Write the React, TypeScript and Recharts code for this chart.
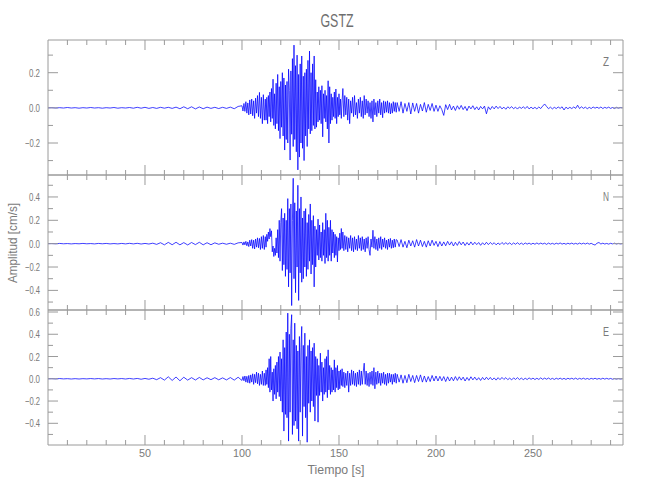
import { Line, LineChart, XAxis, YAxis } from "recharts";

// seismogram samples, cm/s. each trace is split into
// segments: [start time s, sample step s, values]
const zPre = [
  0, 0.001, -0.001, 0.001, -0.001, 0.002, -0.001, 0.001, -0.002, 0.001,
  -0.001, 0.002, -0.001, 0.001, -0.002, 0.001, -0.001, 0.002, -0.002, 0.001,
  -0.001, 0.002, -0.002, 0.003, -0.002, 0.003, -0.003, 0.002, -0.003, 0.003,
  -0.002, 0.003, -0.003, 0.004, -0.005, 0.006, -0.005, 0.006, -0.006, 0.005,
  -0.005, 0.004, -0.003, 0.003, -0.004, 0.003, -0.003, 0.004, -0.005, 0.008,
];
const zOnset = [
  0.012, -0.018, 0.025, -0.02, 0.035, -0.03, 0.028, -0.04, 0.045, -0.035,
  0.05, -0.045, 0.04, -0.06, 0.055, -0.03, 0.07, -0.05, 0.088, -0.06,
  0.06, -0.09, 0.075, -0.07,
];
const zStrong = [
  0.05, -0.07, 0.06, -0.09, 0.07, -0.05, 0.09, -0.08, 0.11, -0.06,
  0.163, -0.1, 0.08, -0.12, 0.14, -0.09, 0.19, -0.13, 0.12, -0.175,
  0.15, -0.11, 0.2, -0.16, 0.17, -0.24, 0.13, -0.18, 0.15, -0.2,
  0.22, 0.1, -0.297, 0.21, -0.15, 0.28, -0.22, 0.357, -0.18, 0.24,
  -0.25, 0.3, -0.353, 0.19, -0.28, 0.25, -0.2, 0.295, -0.23, 0.18,
  -0.3, 0.2, -0.16, 0.22, -0.22, 0.27, -0.12, 0.323, -0.148, 0.2,
  -0.13, 0.25, -0.1, 0.295, -0.12, 0.16, -0.11, 0.09, -0.08, 0.12,
  -0.07, 0.1, -0.09, 0.126, -0.165, 0.08, -0.06, 0.1, -0.08, 0.07,
  -0.12, 0.154, -0.2, 0.12, -0.09, 0.08, -0.07, 0.06, -0.05, 0.09,
  -0.06, 0.107, -0.09, 0.06, -0.05, 0.08, -0.04, 0.05, -0.06, 0.04,
];
const zLate = [
  0.11, -0.05, 0.07, -0.04, 0.06, -0.07, 0.05, -0.09, 0.04, -0.03,
  0.06, -0.05, 0.07, -0.04, 0.03, -0.06, 0.05, -0.03, 0.06, -0.05,
  0.04, -0.06, 0.07, -0.04, 0.05, -0.03, 0.04, -0.05, 0.03, -0.06,
  0.04, -0.08, 0.05, -0.04, 0.03, -0.05, 0.04, -0.03, 0.05, -0.04,
  0.03, -0.056, 0.04, -0.03, 0.035, -0.025, 0.04, -0.03, 0.03, -0.035,
  0.025, -0.03, 0.035, -0.02, 0.03, -0.025,
];
const zCoda = [
  0.03, -0.02, 0.035, -0.03, 0.025, -0.02, 0.03, -0.035, 0.028, -0.02,
  0.025, -0.03, 0.02, -0.018, 0.03, -0.025, 0.02, -0.015, 0.025, -0.02,
  0.015, -0.02, 0.012, -0.01, -0.043, 0.018, -0.01, 0.02, -0.012, 0.01,
  -0.015, 0.012, -0.008, 0.014, -0.01, 0.008, -0.016, 0.01, -0.006, 0.012,
  -0.01, 0.006, -0.012, 0.008, -0.006, 0.01, -0.034, 0.006, -0.01, 0.008,
  -0.006, 0.01, -0.004, 0.008, -0.006, 0.004, -0.008, 0.006, -0.003, 0.007,
  -0.005, 0.004, -0.007, 0.005, -0.003, 0.006, -0.004, 0.008, -0.006, 0.004,
  -0.005, 0.003, -0.006, 0.005, -0.004, 0.01, 0.022, 0.008, -0.005, 0.004,
  -0.006, 0.003, -0.004, 0.005, -0.003, 0.006, -0.012, 0.004, -0.005, 0.003,
  -0.004, 0.005, -0.003, 0.015, -0.004, 0.006, -0.003, 0.004, -0.005, 0.003,
  -0.004, 0.005, -0.002, 0.004, -0.003, 0.005, -0.004, 0.003, -0.002, 0.004,
  -0.003, 0.002, -0.004, 0.003, -0.002, 0.002, 0,
];

const nPre = [
  0, 0.001, -0.001, 0.002, -0.001, 0.001, -0.002, 0.001, -0.001, 0.002,
  -0.001, 0.001, -0.002, 0.002, -0.001, 0.002, -0.002, 0.001, -0.002, 0.002,
  -0.002, 0.003, -0.002, 0.003, -0.003, 0.002, -0.003, 0.004, -0.006, 0.008,
  -0.01, 0.011, -0.009, 0.012, -0.01, 0.009, -0.011, 0.01, -0.008, 0.012,
  -0.01, 0.008, -0.009, 0.007, -0.005, 0.004, -0.005, 0.004, -0.006, 0.007,
];
const nOnset = [
  0.01, -0.012, 0.015, -0.01, 0.02, -0.018, 0.015, -0.025, 0.03, -0.02,
  0.035, -0.04, 0.03, -0.045, 0.04, -0.03, 0.05, -0.035, 0.045, -0.05,
  0.06, -0.04, 0.07, -0.05,
];
const nStrong = [
  0.06, -0.03, 0.08, 0.02, 0.1, 0.04, 0.129, 0.06, 0.11, -0.07,
  -0.02, -0.11, -0.04, -0.1, 0.05, -0.08, 0.12, -0.12, 0.2, -0.15,
  0.18, 0.3, -0.23, 0.22, -0.18, 0.26, -0.28, 0.2, -0.22, 0.386,
  -0.37, 0.3, -0.25, 0.34, -0.53, 0.2, 0.56, -0.3, 0.35, -0.42,
  0.28, -0.2, 0.5, -0.486, 0.3, -0.25, 0.4, -0.33, 0.22, -0.3,
  0.28, -0.2, 0.3, -0.28, 0.18, -0.22, 0.25, -0.15, 0.34, -0.26,
  0.2, -0.18, 0.24, -0.37, 0.15, -0.2, 0.12, -0.1, 0.21, -0.14,
  0.16, -0.12, 0.1, -0.15, 0.18, -0.1, 0.12, -0.17, 0.26, -0.12,
  0.2, -0.15, 0.14, -0.1, 0.2, -0.15, 0.12, -0.08, 0.1, -0.12,
  0.08, -0.1, 0.06, -0.157, 0.05, -0.06, 0.09, -0.05, 0.13, -0.04,
];
const nLate = [
  0.1, -0.06, 0.07, -0.05, 0.06, -0.07, 0.05, -0.04, 0.07, -0.06,
  0.05, -0.07, 0.06, -0.05, 0.04, -0.06, 0.07, -0.04, 0.05, -0.06,
  0.06, -0.05, 0.04, -0.07, 0.05, -0.04, 0.06, -0.05, -0.1, 0.04,
  -0.03, 0.115, -0.04, 0.06, -0.05, 0.04, -0.06, 0.05, -0.04, 0.06,
  -0.05, 0.04, -0.03, 0.05, -0.04, 0.03, -0.05, 0.04, -0.03, 0.045,
  -0.04, 0.03, -0.035, 0.04, -0.03, 0.035,
];
const nCoda = [
  0.03, -0.025, 0.035, -0.03, 0.02, -0.035, 0.03, -0.02, 0.025, -0.03,
  0.035, -0.02, 0.03, -0.025, 0.02, -0.03, 0.025, -0.02, 0.03, -0.015,
  0.02, -0.025, 0.018, -0.02, 0.015, -0.018, 0.02, -0.012, 0.016, -0.02,
  0.012, -0.015, 0.018, -0.01, 0.014, -0.016, 0.01, -0.012, 0.015, -0.01,
  0.012, -0.008, 0.01, -0.014, 0.008, -0.01, 0.012, -0.008, 0.01, -0.006,
  0.008, -0.01, 0.006, -0.008, 0.01, -0.006, 0.008, -0.005, 0.007, -0.008,
  0.006, -0.005, 0.008, -0.006, 0.005, -0.007, 0.006, -0.004, 0.005, -0.006,
  0.004, -0.005, 0.006, -0.004, 0.005, -0.003, 0.004, -0.006, 0.005, -0.004,
  0.003, -0.005, 0.004, -0.003, 0.006, -0.004, 0.003, -0.005, 0.004, -0.003,
  0.005, -0.004, 0.003, -0.004, 0.005, -0.003, 0.004, -0.003, 0.005, -0.004,
  0.003, -0.006, -0.012, 0.004, 0.01, -0.003, 0.004, -0.003, 0.002, -0.004,
  0.003, -0.002, 0.004, -0.003, 0.002, -0.002, 0,
];

const ePre = [
  0, 0.001, -0.001, 0.002, -0.001, 0.001, -0.002, 0.001, -0.002, 0.001,
  -0.001, 0.002, -0.001, 0.002, -0.002, 0.001, -0.002, 0.002, -0.001, 0.002,
  -0.002, 0.003, -0.002, 0.003, -0.004, 0.003, -0.004, 0.005, -0.008, 0.01,
  -0.012, 0.018, -0.015, 0.016, -0.018, 0.014, -0.012, 0.01, -0.011, 0.012,
  -0.01, 0.009, -0.008, 0.01, -0.009, 0.008, -0.01, 0.011, -0.012, 0.014,
];
const eOnset = [
  -0.015, 0.02, -0.018, 0.025, -0.03, 0.022, -0.035, 0.03, -0.04, 0.035,
  -0.03, 0.045, -0.05, 0.04, -0.035, 0.06, -0.045, 0.05, -0.06, 0.04,
  -0.05, 0.07, -0.06, 0.05,
];
const eStrong = [
  -0.06, 0.08, -0.05, 0.1, -0.08, 0.18, -0.12, 0.2, -0.1, 0.06,
  -0.2, 0.09, -0.14, 0.12, -0.18, 0.15, -0.12, 0.2, -0.16, 0.24,
  -0.2, 0.18, -0.3, 0.35, -0.47, 0.28, -0.32, 0.42, -0.35, 0.59,
  -0.56, 0.4, -0.3, 0.45, 0.576, -0.5, 0.35, -0.42, 0.5, -0.38,
  0.3, -0.45, 0.25, -0.56, 0.38, -0.3, 0.28, 0.47, -0.515, 0.3,
  -0.25, 0.41, -0.35, 0.2, -0.57, 0.3, -0.22, 0.35, -0.3, 0.25,
  -0.2, 0.28, -0.25, 0.32, -0.38, 0.2, -0.15, 0.18, -0.39, 0.12,
  -0.15, 0.23, -0.12, 0.15, -0.2, 0.1, -0.14, 0.18, -0.12, 0.2,
  -0.17, 0.26, -0.1, 0.12, -0.14, 0.1, -0.12, 0.08, -0.1, 0.17,
  -0.12, 0.1, -0.08, 0.12, -0.1, 0.07, -0.09, 0.08, -0.06, 0.09,
];
const eLate = [
  -0.07, 0.06, -0.08, 0.05, -0.06, 0.07, -0.12, 0.05, -0.06, 0.08,
  -0.05, 0.07, -0.06, 0.05, -0.07, 0.06, -0.05, 0.08, -0.06, 0.07,
  -0.05, 0.06, 0.14, -0.05, 0.07, -0.06, 0.05, -0.07, 0.06, -0.05,
  0.07, -0.06, 0.1, -0.09, 0.06, -0.05, 0.07, -0.04, 0.05, -0.06,
  0.05, -0.04, 0.06, -0.05, 0.04, -0.06, 0.05, -0.04, 0.05, -0.03,
  0.04, -0.05, 0.04, -0.03, 0.05, -0.04,
];
const eCoda = [
  0.04, -0.03, 0.035, -0.04, 0.03, -0.035, 0.04, -0.025, 0.03, -0.035,
  0.03, -0.025, 0.035, -0.03, 0.025, -0.03, 0.02, -0.025, 0.03, -0.02,
  0.025, -0.02, 0.022, -0.018, 0.02, -0.025, 0.018, -0.02, 0.015, -0.018,
  0.02, -0.015, 0.018, -0.012, 0.015, -0.02, 0.012, -0.015, 0.018, -0.01,
  0.015, -0.012, 0.01, -0.015, 0.012, -0.01, 0.014, -0.008, 0.012, -0.01,
  0.008, -0.012, 0.01, -0.008, 0.012, -0.006, 0.01, -0.008, 0.006, -0.01,
  0.008, -0.006, 0.01, -0.007, 0.006, -0.008, 0.005, -0.007, 0.008, -0.005,
  0.006, -0.007, 0.005, -0.006, 0.008, -0.005, 0.006, -0.004, 0.007, -0.005,
  0.004, -0.006, 0.005, -0.004, 0.006, -0.005, 0.004, -0.006, 0.005, -0.003,
  0.005, -0.004, 0.006, -0.005, 0.004, -0.003, 0.005, -0.004, 0.003, -0.005,
  0.004, -0.003, 0.005, -0.004, 0.003, -0.004, 0.005, -0.003, 0.004, -0.003,
  0.003, -0.004, 0.002, -0.003, 0.002, -0.002, 0,
];

const timeTicks = [
  10, 20, 30, 40, 50, 60, 70, 80, 90, 100, 110, 120, 130, 140, 150,
  160, 170, 180, 190, 200, 210, 220, 230, 240, 250, 260, 270, 280, 290,
];
const zTicks = [-0.3, -0.2, -0.1, 0, 0.1, 0.2, 0.3];
const nTicks = [-0.5, -0.4, -0.3, -0.2, -0.1, 0, 0.1, 0.2, 0.3, 0.4, 0.5];
const eTicks = [-0.5, -0.4, -0.3, -0.2, -0.1, 0, 0.1, 0.2, 0.3, 0.4, 0.5, 0.6];

type Seg = [number, number, number[]];

function trace(segs: Seg[]) {
  const out: { t: number; v: number }[] = [];
  for (const [t0, dt, vals] of segs) {
    vals.forEach((v, i) => out.push({ t: +(t0 + i * dt).toFixed(2), v }));
  }
  return out;
}

const zData = trace([[0, 2, zPre], [100, 0.5, zOnset], [112, 0.4, zStrong], [152, 0.5, zLate], [180, 1, zCoda]]);
const nData = trace([[0, 2, nPre], [100, 0.5, nOnset], [112, 0.4, nStrong], [152, 0.5, nLate], [180, 1, nCoda]]);
const eData = trace([[0, 2, ePre], [100, 0.5, eOnset], [112, 0.4, eStrong], [152, 0.5, eLate], [180, 1, eCoda]]);

const FONT = "'Liberation Sans', sans-serif";
const FRAME = "#9a9a9a";
const TEXT = "#7a7a7a";
const tDomain: [number, number] = [0, 296.4];
const PANEL_H = 135;
const PAD = 6; // room above each panel so top labels are not cut

// narrow, squeezed text like the plotting package's stroke font
function Narrow({
  x,
  y,
  size,
  width,
  anchor = "middle",
  fill = TEXT,
  transform,
  children,
}: {
  x: number;
  y: number;
  size: number;
  width: number;
  anchor?: "start" | "middle" | "end";
  fill?: string;
  transform?: string;
  children: string;
}) {
  return (
    <text
      x={x}
      y={y}
      fontSize={size}
      fontFamily={FONT}
      fill={fill}
      textAnchor={anchor}
      textLength={width}
      lengthAdjust="spacingAndGlyphs"
      transform={transform}
    >
      {children}
    </text>
  );
}

// ticks drawn inward from the frame, long on labelled values
function InTick(props: any) {
  const { x, y, payload, side, showLabels } = props;
  const v = payload.value as number;
  const horiz = side === "top" || side === "bottom";
  const major = horiz ? v % 50 === 0 : Math.abs(v / 0.2 - Math.round(v / 0.2)) < 1e-6;
  const len = major ? 10 : 5;
  let x2 = x;
  let y2 = y;
  if (side === "bottom") y2 = y - len;
  if (side === "top") y2 = y + len;
  if (side === "left") x2 = x + len;
  if (side === "right") x2 = x - len;
  let label = null;
  if (showLabels && major) {
    if (side === "bottom") {
      const s = String(v);
      label = (
        <Narrow x={x} y={y + 12} size={11} width={s.length * 6}>
          {s}
        </Narrow>
      );
    } else if (side === "left") {
      const s = v.toFixed(1).replace("-", "\u2212");
      label = (
        <Narrow x={x - 8} y={y + 4} size={11} width={v < 0 ? 15 : 11} anchor="end">
          {s}
        </Narrow>
      );
    }
  }
  return (
    <g>
      <line x1={x} y1={y} x2={x2} y2={y2} stroke={FRAME} strokeWidth={1} />
      {label}
    </g>
  );
}

function Panel({
  data,
  domain,
  ticks,
  top,
  timeLabels,
}: {
  data: { t: number; v: number }[];
  domain: [number, number];
  ticks: number[];
  top: number;
  timeLabels: boolean;
}) {
  const extra = timeLabels ? 30 : 0;
  const common = {
    type: "number" as const,
    dataKey: "t",
    domain: tDomain,
    ticks: timeTicks,
    interval: 0,
    height: 1,
    tickSize: 0,
    tickMargin: 0,
    tickLine: false,
    stroke: FRAME,
    allowDataOverflow: true,
  };
  const yCommon = {
    type: "number" as const,
    domain,
    ticks,
    interval: 0,
    tickSize: 0,
    tickMargin: 0,
    tickLine: false,
    stroke: FRAME,
    allowDataOverflow: true,
  };
  return (
    <div style={{ position: "absolute", left: 0, top: top - PAD - 1 }}>
      <LineChart
        width={650}
        height={PANEL_H + 2 + PAD + extra}
        data={data}
        margin={{ top: PAD, right: 0, bottom: extra, left: 0 }}
      >
        <XAxis
          {...common}
          xAxisId="b"
          orientation="bottom"
          tick={(p: any) => <InTick {...p} side="bottom" showLabels={timeLabels} />}
        />
        <XAxis
          {...common}
          xAxisId="t"
          orientation="top"
          tick={(p: any) => <InTick {...p} side="top" showLabels={false} />}
        />
        <YAxis
          {...yCommon}
          yAxisId="l"
          orientation="left"
          width={48}
          tick={(p: any) => <InTick {...p} side="left" showLabels />}
        />
        <YAxis
          {...yCommon}
          yAxisId="r"
          orientation="right"
          width={27}
          tick={(p: any) => <InTick {...p} side="right" showLabels={false} />}
        />
        <Line
          xAxisId="b"
          yAxisId="l"
          type="linear"
          dataKey="v"
          stroke="#0000ff"
          strokeWidth={0.75}
          dot={false}
          isAnimationActive={false}
        />
      </LineChart>
    </div>
  );
}

export default function App() {
  return (
    <div style={{ position: "fixed", left: 0, top: 0, width: 650, height: 500, background: "#fff" }}>
      <Panel data={zData} domain={[-0.382, 0.386]} ticks={zTicks} top={40} timeLabels={false} />
      <Panel data={nData} domain={[-0.568, 0.588]} ticks={nTicks} top={175} timeLabels={false} />
      <Panel data={eData} domain={[-0.595, 0.618]} ticks={eTicks} top={310} timeLabels />
      <svg
        width={650}
        height={500}
        style={{ position: "absolute", left: 0, top: 0, pointerEvents: "none" }}
      >
        <Narrow x={337} y={27} size={19} width={33} fill="#6e6e6e">
          GSTZ
        </Narrow>
        <Narrow x={606} y={66} size={12} width={6}>
          Z
        </Narrow>
        <Narrow x={606} y={201} size={12} width={6}>
          N
        </Narrow>
        <Narrow x={606} y={336} size={12} width={6}>
          E
        </Narrow>
        <Narrow x={336} y={474} size={13} width={57}>
          Tiempo [s]
        </Narrow>
        <Narrow x={17} y={243} size={13} width={80} transform="rotate(-90 17 243)">
          Amplitud [cm/s]
        </Narrow>
      </svg>
    </div>
  );
}
